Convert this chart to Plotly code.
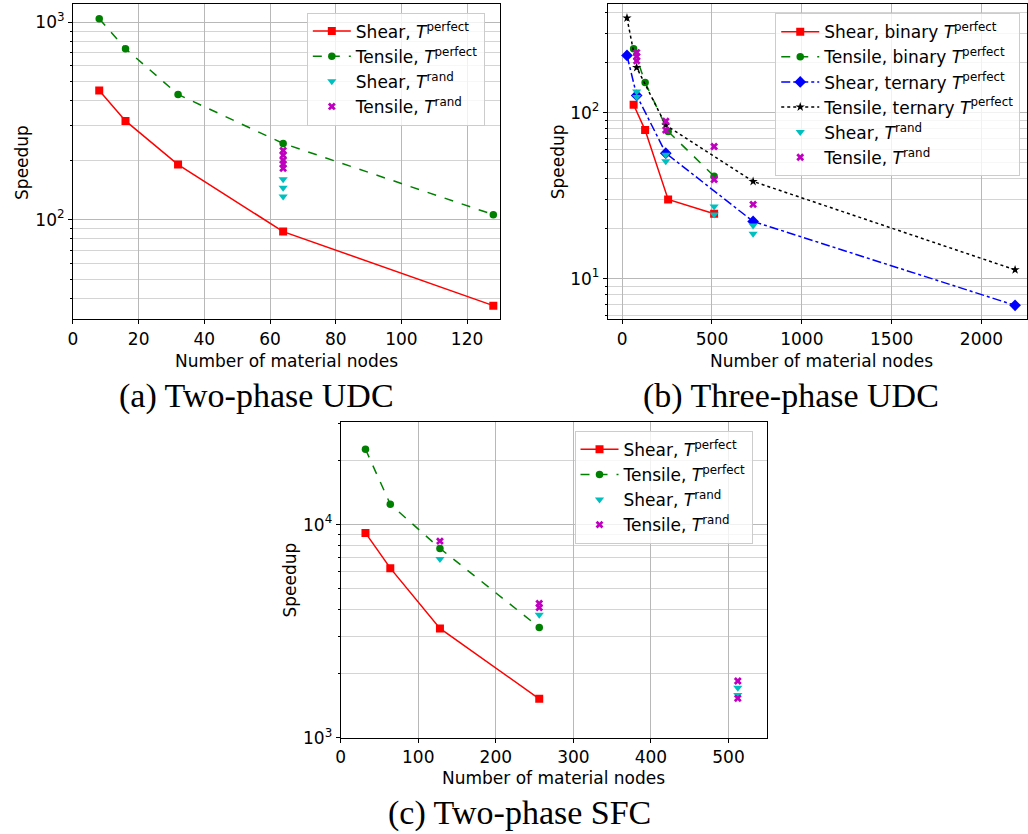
import numpy as np
import plotly.graph_objects as go

# ---------------- data ----------------
# (a) Two-phase UDC
a_x_perf = [8, 16, 32, 64, 128]
a_shear_perf = [450, 316, 190, 87, 36.7]
a_tensile_perf = [1040, 733, 430, 243, 106]
a_x_shear_rand = [64, 64, 64]
a_shear_rand = [160, 145, 131]
a_x_tensile_rand = [64, 64, 64, 64, 64]
a_tensile_rand = [224, 212, 200, 191, 182]

# (b) Three-phase UDC
b_x_binary = [64, 128, 256, 512]
b_shear_binary = [111.5, 78.5, 30, 24.6]
b_tensile_binary = [243, 152, 77, 41.4]
b_x_ternary = [27, 81, 243, 729, 2187]
b_shear_ternary = [221, 127, 57, 22.1, 6.9]
b_tensile_ternary = [372, 187, 84, 38.5, 11.3]
b_x_shear_rand = [81, 81, 243, 243, 512, 512, 729, 729]
b_shear_rand = [134, 124, 55.7, 50.9, 27.2, 24.3, 20.9, 18.6]
b_x_tensile_rand = [81, 81, 81, 243, 243, 512, 512, 729]
b_tensile_rand = [230, 218, 205, 88.8, 78.5, 62.5, 39.5, 28]

# (c) Two-phase SFC
c_x_perf = [32, 64, 128, 256]
c_shear_perf = [9150, 6250, 3260, 1523]
c_tensile_perf = [22600, 12470, 7740, 3295]
c_x_shear_rand = [128, 256, 512, 512]
c_shear_rand = [6900, 3773, 1718, 1589]
c_x_tensile_rand = [128, 256, 256, 512, 512]
c_tensile_rand = [8370, 4272, 4080, 1845, 1531]

captions = ["(a) Two-phase UDC", "(b) Three-phase UDC", "(c) Two-phase SFC"]
xlabel = "Number of material nodes"
ylabel = "Speedup"

# ---------------- styling ----------------
W, H = 1028, 834
FONT = "DejaVu Sans"
FS = 17
RED, GREEN, BLUE, CYAN, MAG = "#ff0000", "#008000", "#0000ff", "#00bfbf", "#bf00bf"

def T(sup):
    return "<i>T</i><sup>%s</sup>" % sup

fig = go.Figure()

def add(x, y, name, color, symbol, size, dash, mode, xa, ya, leg, group):
    fig.add_trace(go.Scatter(
        x=x, y=y, name=name, mode=mode, xaxis=xa, yaxis=ya,
        legend=leg, legendgroup=group,
        line=dict(color=color, width=1.5, dash=dash),
        marker=dict(color=color, symbol=symbol, size=size, line=dict(width=0)),
    ))

# panel a
add(a_x_perf, a_shear_perf, "Shear, " + T("perfect"), RED, "square", 8, "solid", "lines+markers", "x", "y", "legend", "a1")
add(a_x_perf, a_tensile_perf, "Tensile, " + T("perfect"), GREEN, "circle", 7.5, "dash", "lines+markers", "x", "y", "legend", "a2")
add(a_x_shear_rand, a_shear_rand, "Shear, " + T("rand"), CYAN, "triangle-down", 8, "solid", "markers", "x", "y", "legend", "a3")
add(a_x_tensile_rand, a_tensile_rand, "Tensile, " + T("rand"), MAG, "x", 7, "solid", "markers", "x", "y", "legend", "a4")

# panel b
add(b_x_binary, b_shear_binary, "Shear, binary " + T("perfect"), RED, "square", 8, "solid", "lines+markers", "x2", "y2", "legend2", "b1")
add(b_x_binary, b_tensile_binary, "Tensile, binary " + T("perfect"), GREEN, "circle", 7.5, "dash", "lines+markers", "x2", "y2", "legend2", "b2")
add(b_x_ternary, b_shear_ternary, "Shear, ternary " + T("perfect"), BLUE, "diamond", 9, "dashdot", "lines+markers", "x2", "y2", "legend2", "b3")
add(b_x_ternary, b_tensile_ternary, "Tensile, ternary " + T("perfect"), "black", "star", 7, "dot", "lines+markers", "x2", "y2", "legend2", "b4")
add(b_x_shear_rand, b_shear_rand, "Shear, " + T("rand"), CYAN, "triangle-down", 8, "solid", "markers", "x2", "y2", "legend2", "b5")
add(b_x_tensile_rand, b_tensile_rand, "Tensile, " + T("rand"), MAG, "x", 7, "solid", "markers", "x2", "y2", "legend2", "b6")

# panel c
add(c_x_perf, c_shear_perf, "Shear, " + T("perfect"), RED, "square", 8, "solid", "lines+markers", "x3", "y3", "legend3", "c1")
add(c_x_perf, c_tensile_perf, "Tensile, " + T("perfect"), GREEN, "circle", 7.5, "dash", "lines+markers", "x3", "y3", "legend3", "c2")
add(c_x_shear_rand, c_shear_rand, "Shear, " + T("rand"), CYAN, "triangle-down", 8, "solid", "markers", "x3", "y3", "legend3", "c3")
add(c_x_tensile_rand, c_tensile_rand, "Tensile, " + T("rand"), MAG, "x", 7, "solid", "markers", "x3", "y3", "legend3", "c4")


def px_x(p):
    return p / W

def px_y(p):
    return 1 - p / H

GRID = "#b8b8b8"
MGRID = "#d4d4d4"

def xaxis(domain, rng, dtick, anchor):
    return dict(domain=domain, range=rng, dtick=dtick, tick0=0, anchor=anchor,
                showline=True, linecolor="black", linewidth=1, mirror=True,
                ticks="outside", ticklen=4, tickcolor="black",
                showgrid=True, gridcolor=GRID, gridwidth=1, zeroline=False,
                tickfont=dict(family=FONT, size=FS, color="black"))

def yaxis(domain, rng, decades, anchor):
    lo, hi = rng
    tv = [10 ** d for d in decades]
    tt = ["10<sup>%d</sup>" % d for d in decades]
    minor_vals = []
    for d in range(int(np.floor(lo)) - 1, int(np.ceil(hi)) + 1):
        for m in range(2, 10):
            v = m * 10 ** d
            if lo <= np.log10(v) <= hi:
                minor_vals.append(v)
    return dict(domain=domain, type="log", range=[lo, hi], anchor=anchor,
                tickmode="array", tickvals=tv, ticktext=tt,
                showline=True, linecolor="black", linewidth=1, mirror=True,
                ticks="outside", ticklen=4, tickcolor="black",
                showgrid=True, gridcolor=GRID, gridwidth=1, zeroline=False,
                tickfont=dict(family=FONT, size=FS, color="black"),
                minor=dict(tickmode="array", tickvals=minor_vals, ticks="outside",
                           ticklen=2, tickcolor="black", showgrid=True,
                           gridcolor=MGRID, gridwidth=1))

# pixel geometry of axes boxes
ax_a = dict(l=68.3, r=497.3, t=4.3, b=323.3)
ax_b = dict(l=605.7, r=1027.3, t=4.3, b=323.3)
ax_c = dict(l=337.3, r=765.7, t=427.3, b=746.7)

def dom(ax):
    return [px_x(ax["l"]), px_x(ax["r"])], [px_y(ax["b"]), px_y(ax["t"])]

xa_d, ya_d = dom(ax_a)
xb_d, yb_d = dom(ax_b)
xc_d, yc_d = dom(ax_c)

legend_common = dict(
    bgcolor="rgba(255,255,255,0.8)", bordercolor="#cccccc", borderwidth=1,
    font=dict(family=FONT, size=FS, color="black"),
    xanchor="left", yanchor="top", traceorder="grouped", tracegroupgap=0,
    itemwidth=38,
)

fig.update_layout(
    width=W, height=H,
    margin=dict(l=0, r=0, t=0, b=0),
    paper_bgcolor="white", plot_bgcolor="white",
    font=dict(family=FONT, size=FS, color="black"),
    xaxis=xaxis(xa_d, [0, 130], 20, "y"),
    yaxis=yaxis(ya_d, [1.495, 3.09], [2, 3], "x"),
    xaxis2=xaxis(xb_d, [-80, 2255], 500, "y2"),
    yaxis2=yaxis(yb_d, [0.754, 2.653], [1, 2], "x2"),
    xaxis3=xaxis(xc_d, [0, 549.6], 100, "y3"),
    yaxis3=yaxis(yc_d, [3, 4.481], [3, 4], "x3"),
    legend=dict(x=px_x(303.3), y=px_y(12.7), **legend_common),
    legend2=dict(x=px_x(774), y=px_y(13.3), **legend_common),
    legend3=dict(x=px_x(572.3), y=px_y(436), **legend_common),
    showlegend=True,
)

ann = []
def text(x, y, s, size=FS, family=FONT, angle=0):
    ann.append(dict(x=px_x(x), y=px_y(y), xref="paper", yref="paper", text=s,
                    showarrow=False, xanchor="center", yanchor="middle",
                    textangle=angle, font=dict(family=family, size=size, color="black")))

# axis titles
text(17, 164, ylabel, angle=-90)
text(556, 164, ylabel, angle=-90)
text(286, 587, ylabel, angle=-90)
text(283, 365, xlabel)
text(820, 365, xlabel)
text(551, 787, xlabel)
# captions
text(253, 401, captions[0], size=34, family="Liberation Serif")
text(790, 401, captions[1], size=34, family="Liberation Serif")
text(517, 823, captions[2], size=34, family="Liberation Serif")

fig.update_layout(annotations=ann)

fig.write_html("out.html", config={"displayModeBar": False},
               post_script="document.body.style.margin='0';")
